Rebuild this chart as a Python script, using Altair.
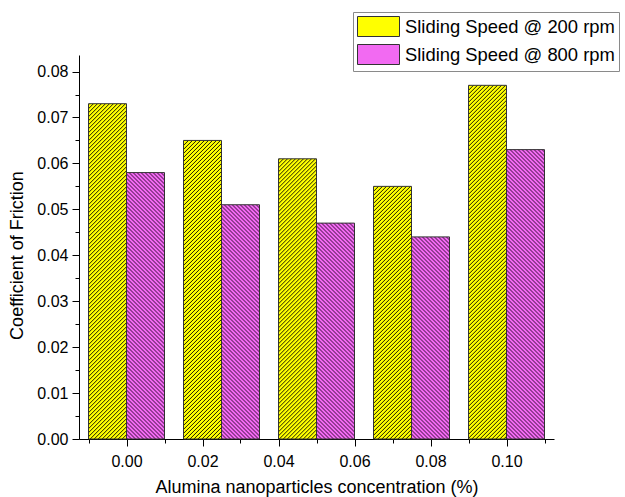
import altair as alt
import pandas as pd

# ---- data ----
concentrations = [0.000, 0.025, 0.050, 0.075, 0.100]
series_names = ["Sliding Speed @ 200 rpm", "Sliding Speed @ 800 rpm"]
cof_200 = [0.073, 0.065, 0.061, 0.055, 0.077]
cof_800 = [0.058, 0.051, 0.047, 0.044, 0.063]
x_ticks = [round(-0.01 + 0.01 * i, 2) for i in range(13)]
y_ticks = [round(0.005 * i, 3) for i in range(17)]

# ---- layout / style ----
W, H = 475, 384
X_DOM = [-0.0125, 0.1125]
Y_DOM = [0.0, 0.0836]
BAR_W = 0.01
FONT = "Liberation Sans"
light = {series_names[0]: "#ffff00", series_names[1]: "#f26af2"}
dark = {series_names[0]: "#1e1e00", series_names[1]: "#3a0e3a"}
PERIOD = 4.0   # hatch period, px along x (integer -> no moire)

rows = []
for i, c in enumerate(concentrations):
    rows.append({"conc": c, "series": series_names[0], "cof": cof_200[i]})
    rows.append({"conc": c, "series": series_names[1], "cof": cof_800[i]})
df = pd.DataFrame(rows)
df["idx"] = range(len(df))

px_x = W / (X_DOM[1] - X_DOM[0])
px_y = H / (Y_DOM[1] - Y_DOM[0])


def hatch(series, value):
    """Diagonal hatch: soft-edged (tent) stripes in a linear gradient, bbox units."""
    w = BAR_W * px_x
    h = value * px_y
    L = w + h
    a = w * L / (w * w + h * h)
    b = h * L / (w * w + h * h)
    stops = [{"offset": 0.0, "color": light[series]}]
    d = 0.0
    while d + 2 < L:
        stops += [
            {"offset": round(d / L, 6), "color": light[series]},
            {"offset": round((d + 1) / L, 6), "color": dark[series]},
            {"offset": round((d + 2) / L, 6), "color": light[series]},
        ]
        d += PERIOD
    stops.append({"offset": 1.0, "color": light[series]})
    if series == series_names[0]:   # "/" stripes
        return {"gradient": "linear", "x1": 0, "y1": 0, "x2": a, "y2": b, "stops": stops}
    return {"gradient": "linear", "x1": 0, "y1": 1, "x2": a, "y2": 1 - b, "stops": stops}


conditions = [
    {"test": f"datum.idx === {r.idx}", "value": hatch(r.series, r.cof)}
    for r in df.itertuples()
]

even_x = "round(datum.value*100) % 2 === 0"
even_y = "round(datum.value*200) % 2 === 0"

bars = (
    alt.Chart(df)
    .transform_calculate(
        x0=f"datum.series === '{series_names[0]}' ? datum.conc - {BAR_W} : datum.conc"
    )
    .transform_calculate(x1=f"datum.x0 + {BAR_W}")
    .mark_bar(stroke="#333333", strokeWidth=1)
    .encode(
        x=alt.X(
            "x0:Q",
            scale=alt.Scale(domain=X_DOM, nice=False, zero=False),
            axis=alt.Axis(
                values=x_ticks,
                format=".2f",
                labelExpr=f"({even_x}) ? datum.label : ''",
                tickSize={"condition": {"test": even_x, "value": 7}, "value": 4},
                title="Alumina nanoparticles concentration (%)",
                labelPadding=7,
                titlePadding=9,
            ),
        ),
        x2="x1:Q",
        y=alt.Y(
            "cof:Q",
            scale=alt.Scale(domain=Y_DOM, nice=False),
            axis=alt.Axis(
                values=y_ticks,
                format=".2f",
                labelExpr=f"({even_y}) ? datum.label : ''",
                tickSize={"condition": {"test": even_y, "value": 7}, "value": 4},
                title="Coefficient of Friction",
                labelPadding=4,
                titlePadding=10,
                titleY=200,
            ),
        ),
        y2=alt.datum(0),
        fill=alt.Fill(
            "series:N",
            scale=alt.Scale(domain=series_names, range=[light[s] for s in series_names]),
            legend=alt.Legend(
                orient="none",
                legendX=274,
                legendY=-43,
                title=None,
                symbolType="M-2.1,-1L2.1,-1L2.1,1L-2.1,1Z",
                symbolSize=400,
                symbolOffset=11,
                symbolStrokeColor="#333333",
                symbolStrokeWidth=1,
                labelFont=FONT,
                labelFontSize=18.4,
                labelColor="black",
                labelOffset=16,
                labelLimit=0,
                padding=4,
                rowPadding=3,
                strokeColor="#8a8a8a",
                fillColor="white",
            ),
            condition=conditions,
        ),
    )
)

chart = (
    bars.properties(
        width=W,
        height=H,
        autosize="none",
        padding={"left": 79, "top": 55, "right": 71, "bottom": 58},
    )
    .configure_view(stroke=None)
    .configure_axis(
        grid=False,
        domainColor="black",
        tickColor="black",
        labelColor="black",
        titleColor="black",
        labelFont=FONT,
        titleFont=FONT,
        labelFontSize=16,
        titleFontSize=18,
        titleFontWeight="normal",
    )
)

chart.save("out.html", embed_options={"renderer": "svg", "actions": False})
